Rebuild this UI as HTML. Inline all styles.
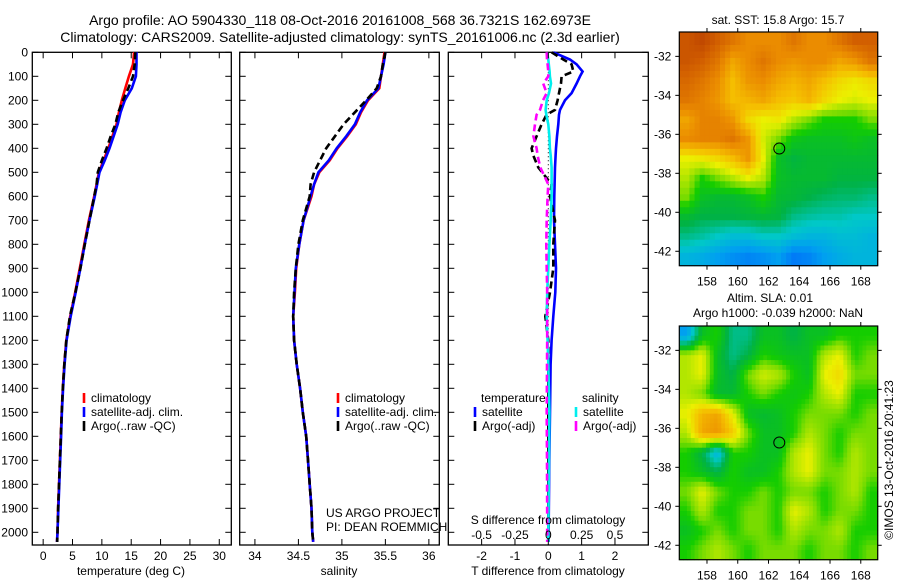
<!DOCTYPE html>
<html><head><meta charset="utf-8">
<style>
body{margin:0;background:#fff;}
svg{display:block;font-family:"Liberation Sans",sans-serif;}
text{fill:#000;}
</style></head>
<body>
<svg id="fig" width="900" height="580" viewBox="0 0 900 580" xmlns="http://www.w3.org/2000/svg">
<text x="340" y="25" font-size="14" text-anchor="middle">Argo profile: AO 5904330_118 08-Oct-2016 20161008_568 36.7321S 162.6973E</text>
<text x="340" y="42" font-size="14" text-anchor="middle">Climatology: CARS2009. Satellite-adjusted climatology: synTS_20161006.nc (2.3d earlier)</text>
<text x="778" y="24" font-size="12" text-anchor="middle">sat. SST: 15.8 Argo: 15.7</text>
<text x="770" y="302" font-size="12" text-anchor="middle">Altim. SLA: 0.01</text>
<text x="778" y="317" font-size="12" text-anchor="middle">Argo h1000: -0.039 h2000: NaN</text>
<text transform="translate(893,460) rotate(-90)" font-size="12" text-anchor="middle">©IMOS 13-Oct-2016 20:41:23</text>
<g id="g1"></g><g id="g2"></g><g id="g3"></g><g id="m1"></g><g id="m2"></g>
</svg>
<script>
// ---- profile data ----
const depth      = [0,50,100,150,200,250,300,350,400,450,500,550,600,700,800,900,1000,1100,1200,1300,1400,1500,1600,1700,1800,1900,2000,2040];
const tempClim   = [15.5,15.3,14.6,14.0,13.4,12.9,12.5,11.8,11.1,10.3,9.5,9.1,8.7,7.8,7.0,6.25,5.45,4.6,3.95,3.6,3.35,3.15,3.0,2.85,2.7,2.55,2.45,2.35];
const tempSat    = [15.9,15.9,15.8,15.1,13.9,13.2,12.7,12.0,11.3,10.5,9.6,9.2,8.8,7.9,7.1,6.35,5.55,4.7,4.0,3.65,3.4,3.2,3.05,2.9,2.75,2.6,2.45,2.35];
const tempArgo   = [15.7,15.6,15.3,14.5,13.6,12.8,12.3,11.5,10.8,10.0,9.3,9.1,8.7,7.9,7.1,6.35,5.5,4.55,3.95,3.6,3.35,3.15,3.0,2.85,2.7,2.55,2.45,2.4];
const salClim    = [35.49,35.47,35.45,35.43,35.30,35.22,35.16,35.06,34.95,34.86,34.74,34.68,34.65,34.56,34.51,34.475,34.46,34.44,34.45,34.48,34.52,34.55,34.59,34.61,34.63,34.65,34.66,34.67];
const salSat     = [35.50,35.48,35.45,35.42,35.29,35.21,35.15,35.05,34.94,34.85,34.73,34.68,34.64,34.56,34.51,34.47,34.455,34.44,34.45,34.48,34.52,34.55,34.59,34.61,34.63,34.65,34.66,34.67];
const salArgo    = [35.50,35.47,35.45,35.40,35.28,35.15,35.02,34.92,34.82,34.75,34.68,34.64,34.63,34.55,34.50,34.47,34.45,34.44,34.45,34.48,34.52,34.55,34.59,34.61,34.63,34.65,34.66,34.67];
// ---- difference data ----
const diffDepth  = [0,30,50,80,100,130,170,200,240,260,300,350,400,430,480,550,600,700,800,900,1000,1100,1200,1300,1500,1700,2000,2040];
const tDiffSat   = [0.15,0.65,0.85,1.03,0.95,0.85,0.7,0.5,0.35,0.32,0.3,0.26,0.23,0.22,0.2,0.19,0.18,0.17,0.2,0.23,0.21,0.15,0.1,0.07,0.05,0.03,0.01,0.01];
const tDiffArgo  = [0.1,0.45,0.7,0.75,0.4,0.38,0.32,0.28,0.2,-0.05,-0.2,-0.35,-0.5,-0.45,-0.3,0.1,0.05,0.2,0.15,0.15,0.05,-0.09,0.0,0.0,0.0,0.0,0.0,0.0];
const sDiffSat   = [-0.008,0.0,0.004,0.01,0.012,0.02,0.005,-0.012,-0.02,-0.015,0.0,0.008,0.012,0.018,0.025,0.025,0.025,0.018,0.008,0.0,-0.008,-0.012,-0.005,0.0,0.008,0.005,0.0,0.0];
const sDiffArgo  = [-0.012,-0.01,-0.005,0.0,0.0,-0.038,-0.012,-0.04,-0.062,-0.088,-0.1,-0.112,-0.088,-0.08,-0.06,0.0,-0.005,-0.012,-0.015,-0.012,-0.008,-0.008,-0.008,-0.01,-0.012,-0.01,-0.008,-0.008];
const depthTicks = [0,100,200,300,400,500,600,700,800,900,1000,1100,1200,1300,1400,1500,1600,1700,1800,1900,2000];
const tempTicks  = [0,5,10,15,20,25,30];
const salTicks   = [34,34.5,35,35.5,36];
const tDiffTicks = [-2,-1,0,1,2];
const sDiffTicks = [-0.5,-0.25,0,0.25,0.5];
const sDiffTickLabels = ["-0.5","-0.25","0","0.25","0.5"];
// ---- map data (rows lat -31..-42, cols lon ~156.7..168.7) ----
const sstGrid = [
[0.92,0.95,0.9,0.85,0.8,0.8,0.8,0.85,0.8,0.8,0.85,0.9,0.9],
[0.92,0.9,0.85,0.75,0.8,0.85,0.8,0.78,0.8,0.8,0.75,0.78,0.85],
[0.88,0.85,0.8,0.7,0.78,0.8,0.75,0.72,0.75,0.7,0.65,0.62,0.65],
[0.85,0.82,0.78,0.7,0.72,0.75,0.7,0.68,0.72,0.65,0.6,0.58,0.6],
[0.75,0.82,0.82,0.78,0.65,0.6,0.62,0.55,0.5,0.45,0.45,0.45,0.5],
[0.8,0.82,0.82,0.85,0.78,0.58,0.5,0.42,0.4,0.4,0.4,0.42,0.4],
[0.6,0.62,0.65,0.7,0.78,0.6,0.4,0.36,0.38,0.38,0.38,0.38,0.38],
[0.55,0.45,0.5,0.55,0.6,0.55,0.4,0.38,0.38,0.38,0.36,0.36,0.36],
[0.5,0.4,0.38,0.38,0.4,0.45,0.38,0.37,0.35,0.33,0.32,0.32,0.3],
[0.38,0.35,0.35,0.35,0.36,0.37,0.36,0.3,0.28,0.27,0.27,0.25,0.25],
[0.3,0.28,0.25,0.22,0.22,0.25,0.25,0.22,0.2,0.2,0.22,0.22,0.2],
[0.2,0.18,0.15,0.12,0.1,0.12,0.15,0.08,0.1,0.15,0.18,0.2,0.2]];
const slaGrid = [
[0.15,0.4,0.45,0.3,0.3,0.4,0.4,0.35,0.4,0.4,0.45,0.45,0.45],
[0.55,0.6,0.4,0.3,0.35,0.45,0.42,0.4,0.4,0.55,0.6,0.45,0.5],
[0.55,0.6,0.4,0.35,0.5,0.58,0.55,0.45,0.4,0.6,0.65,0.5,0.5],
[0.55,0.5,0.38,0.38,0.45,0.5,0.45,0.42,0.45,0.55,0.6,0.45,0.45],
[0.6,0.72,0.75,0.6,0.4,0.38,0.4,0.45,0.5,0.5,0.5,0.45,0.5],
[0.55,0.75,0.78,0.68,0.5,0.4,0.4,0.45,0.55,0.5,0.45,0.5,0.5],
[0.45,0.35,0.18,0.45,0.45,0.4,0.4,0.55,0.6,0.5,0.45,0.55,0.5],
[0.45,0.4,0.35,0.45,0.4,0.4,0.45,0.55,0.6,0.5,0.5,0.55,0.5],
[0.5,0.6,0.5,0.45,0.45,0.5,0.45,0.5,0.5,0.45,0.5,0.55,0.45],
[0.45,0.55,0.45,0.45,0.5,0.5,0.45,0.6,0.55,0.45,0.5,0.5,0.45],
[0.4,0.45,0.5,0.45,0.5,0.5,0.45,0.55,0.5,0.5,0.55,0.45,0.45],
[0.45,0.5,0.55,0.5,0.45,0.5,0.5,0.5,0.45,0.5,0.5,0.45,0.5]];
const mapLonTicks = [158,160,162,164,166,168];
const mapLatTicks = [-32,-34,-36,-38,-40,-42];
const argoLon = 162.7, argoLat = -36.73;

const NS="http://www.w3.org/2000/svg";
function mk(parent,tag,attrs){const e=document.createElementNS(NS,tag);for(const k in attrs)e.setAttribute(k,attrs[k]);parent.appendChild(e);return e;}
const top0=52.3, bot=545;
const yD = d => top0 + d*0.24;

function panel(g,x0,x1,xmin,xmax,name){
  const xs=v=>x0+(v-xmin)/(xmax-xmin)*(x1-x0);
  const r=mk(g,'rect',{x:x0,y:top0,width:x1-x0,height:bot-top0,fill:'none',stroke:'#000','stroke-width':1.3});
  
  
  depthTicks.forEach(d=>{
    mk(g,'line',{x1:x0,x2:x0+6,y1:yD(d),y2:yD(d),stroke:'#000'});
    mk(g,'line',{x1:x1,x2:x1-6,y1:yD(d),y2:yD(d),stroke:'#000'});
  });
  return xs;
}
function line(g,xs,vals,deps,color,dash,name){
  const pts=vals.map((v,i)=>xs(v).toFixed(1)+','+yD(deps[i]).toFixed(1)).join(' ');
  const p=mk(g,'polyline',{points:pts,fill:'none',stroke:color,'stroke-width':2.6});
  if(dash)p.setAttribute('stroke-dasharray',dash);
  
  
}
function xticks(g,xs,ticks,labels,ylab){
  ticks.forEach((t,i)=>{
    mk(g,'line',{x1:xs(t),x2:xs(t),y1:bot,y2:bot-6,stroke:'#000'});
    mk(g,'line',{x1:xs(t),x2:xs(t),y1:top0,y2:top0+6,stroke:'#000'});
    const tx=mk(g,'text',{x:xs(t),y:ylab,'font-size':12,'text-anchor':'middle'});
    tx.textContent=labels?labels[i]:String(t);
    
    
  });
}
function txt(g,x,y,s,name,size,anchor){
  const t=mk(g,'text',{x:x,y:y,'font-size':size||12,'text-anchor':anchor||'start'});
  t.textContent=s;
  
  
}
function legend(g,x,y,color,label,name){
  const l=mk(g,'line',{x1:x,x2:x,y1:y-9,y2:y+1,stroke:color,'stroke-width':2.6});
  
  
  txt(g,x+7,y,label,name);
}

// Panel 1: temperature
const g1=document.getElementById('g1');
const xT=panel(g1,32.3,231.3,-1.85,32.05,'temperature-panel');
line(g1,xT,tempClim,depth,'#f00',null,'temp-climatology-line');
line(g1,xT,tempSat,depth,'#00f',null,'temp-satellite-line');
line(g1,xT,tempArgo,depth,'#000','7,4','temp-argo-line');
xticks(g1,xT,tempTicks,null,560);
depthTicks.forEach(d=>txt(g1,28,yD(d)+4,String(d),'y-tick-label',12,'end'));
txt(g1,131,575,'temperature (deg C)','temperature-axis-title',12,'middle');
legend(g1,84,402,'#f00','climatology','legend-climatology');
legend(g1,84,416,'#00f','satellite-adj. clim.','legend-satellite');
legend(g1,84,430,'#000','Argo(..raw -QC)','legend-argo');

// Panel 2: salinity
const g2=document.getElementById('g2');
const xS=panel(g2,239.7,439.3,33.825,36.12,'salinity-panel');
line(g2,xS,salClim,depth,'#f00',null,'sal-climatology-line');
line(g2,xS,salSat,depth,'#00f',null,'sal-satellite-line');
line(g2,xS,salArgo,depth,'#000','7,4','sal-argo-line');
xticks(g2,xS,salTicks,null,560);
txt(g2,339,575,'salinity','salinity-axis-title',12,'middle');
legend(g2,338,402,'#f00','climatology','legend-climatology-2');
legend(g2,338,416,'#00f','satellite-adj. clim.','legend-satellite-2');
legend(g2,338,430,'#000','Argo(..raw -QC)','legend-argo-2');
txt(g2,326,517,'US ARGO PROJECT','project-label');
txt(g2,326,531,'PI: DEAN ROEMMICH','pi-label');

// Panel 3: differences
const g3=document.getElementById('g3');
const xD=panel(g3,448.3,648.3,-3,3,'difference-panel');
const xSd=v=>xD(v*4);
mk(g3,'line',{x1:xD(0),x2:xD(0),y1:top0,y2:bot,stroke:'#000','stroke-dasharray':'1,3'});
line(g3,xD,tDiffSat,diffDepth,'#00f',null,'tdiff-satellite-line');
line(g3,xD,tDiffArgo,diffDepth,'#000','7,4','tdiff-argo-line');
line(g3,xSd,sDiffSat,diffDepth,'#0ee',null,'sdiff-satellite-line');
line(g3,xSd,sDiffArgo,diffDepth,'#f0f','7,4','sdiff-argo-line');
xticks(g3,xD,tDiffTicks,null,560);
sDiffTicks.forEach((t,i)=>txt(g3,xSd(t),539,sDiffTickLabels[i],'s-tick-label',12,'middle'));
txt(g3,548,524,'S difference from climatology','s-diff-axis-title',12,'middle');
txt(g3,548,575,'T difference from climatology','t-diff-axis-title',12,'middle');
txt(g3,481,402,'temperature','legend-temperature-header');
legend(g3,475,416,'#00f','satellite','legend-t-satellite');
legend(g3,475,430,'#000','Argo(-adj)','legend-t-argo');
txt(g3,582,402,'salinity','legend-salinity-header');
legend(g3,576,416,'#0ee','satellite','legend-s-satellite');
legend(g3,576,430,'#f0f','Argo(-adj)','legend-s-argo');

// Maps
const stops=[[0,[0,80,255]],[0.15,[0,160,240]],[0.25,[0,200,200]],[0.35,[0,178,70]],[0.45,[20,205,0]],[0.5,[120,220,0]],[0.6,[235,240,0]],[0.7,[245,190,0]],[0.8,[235,140,0]],[0.9,[210,95,0]],[1,[175,50,0]]];
function cmap(v){
  for(let i=1;i<stops.length;i++){if(v<=stops[i][0]){const a=stops[i-1],b=stops[i],f=(v-a[0])/(b[0]-a[0]);
    return 'rgb('+a[1].map((c,k)=>Math.round(c+(b[1][k]-c)*f)).join(',')+')';}}
  return 'rgb(175,50,0)';
}
function sample(grid,fr,fc){
  const rows=grid.length, cols=grid[0].length;
  fr=Math.max(0,Math.min(rows-1,fr)); fc=Math.max(0,Math.min(cols-1,fc));
  const r0=Math.floor(fr), c0=Math.floor(fc), r1=Math.min(rows-1,r0+1), c1=Math.min(cols-1,c0+1);
  const a=fr-r0, b=fc-c0;
  return grid[r0][c0]*(1-a)*(1-b)+grid[r0][c1]*(1-a)*b+grid[r1][c0]*a*(1-b)+grid[r1][c1]*a*b;
}
function drawMap(g,grid,x0,x1,y0,y1,lonMin,lonMax,latTop,latBot,name,sub){
  const xs=lon=>x0+(lon-lonMin)/(lonMax-lonMin)*(x1-x0);
  const ys=lat=>y0+(latTop-lat)/(latTop-latBot)*(y1-y0);
  const rows=grid.length, cols=grid[0].length;
  const R=rows*sub, C=cols*sub;
  const cw=(x1-x0)/C, ch=(y1-y0)/R;
  for(let r=0;r<R;r++)for(let c=0;c<C;c++){
    const v=sample(grid,(r+0.5)/sub-0.5,(c+0.5)/sub-0.5);
    const cell=mk(g,'rect',{x:(x0+c*cw).toFixed(2),y:(y0+r*ch).toFixed(2),width:(cw+0.5).toFixed(2),height:(ch+0.5).toFixed(2),fill:cmap(v)});
    
    
  }
  const fr=mk(g,'rect',{x:x0,y:y0,width:x1-x0,height:y1-y0,fill:'none',stroke:'#000','stroke-width':1.2});
  
  
  mapLonTicks.forEach(l=>{
    mk(g,'line',{x1:xs(l),x2:xs(l),y1:y0,y2:y0-4,stroke:'#000'});
    mk(g,'line',{x1:xs(l),x2:xs(l),y1:y1,y2:y1+4,stroke:'#000'});
    txt(g,xs(l),y1+20,String(l),'lon-tick-label',12,'middle');
  });
  mapLatTicks.forEach(l=>{
    mk(g,'line',{x1:x0,x2:x0-4,y1:ys(l),y2:ys(l),stroke:'#000'});
    mk(g,'line',{x1:x1,x2:x1+4,y1:ys(l),y2:ys(l),stroke:'#000'});
    txt(g,x0-8,ys(l)+4,String(l),'lat-tick-label',12,'end');
  });
  const c=mk(g,'circle',{cx:xs(argoLon),cy:ys(argoLat),r:5.5,fill:'none',stroke:'#000','stroke-width':1});
  
  
}
drawMap(document.getElementById('m1'),sstGrid,679.3,877.7,32,265.7,156.2,169.1,-30.75,-42.74,'sst-map',3);
drawMap(document.getElementById('m2'),slaGrid,679.3,877.7,326,559.7,156.2,169.1,-30.75,-42.74,'sla-map',4);
</script>
</body></html>
